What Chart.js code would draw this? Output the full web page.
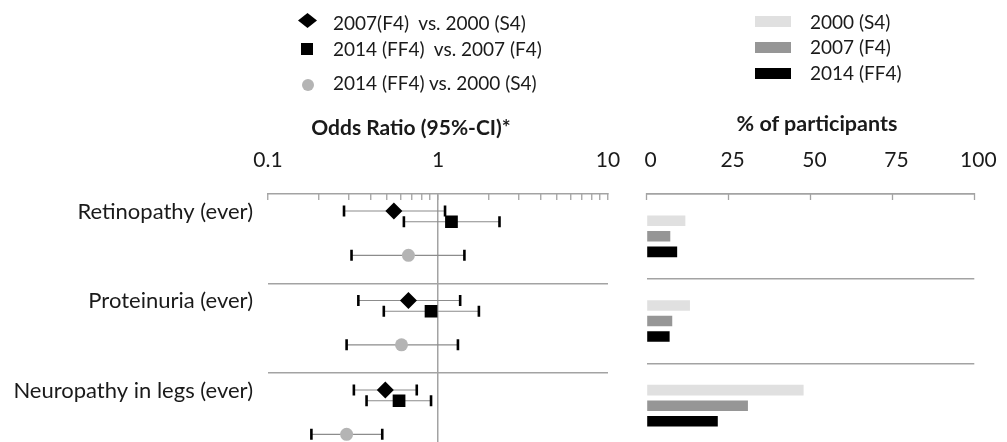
<!DOCTYPE html>
<html>
<head>
<meta charset="utf-8">
<script src="https://cdn.jsdelivr.net/npm/chart.js@4/dist/chart.umd.min.js"></script>
<style>
  html, body { margin: 0; padding: 0; background: #ffffff; }
  body { width: 1007px; height: 442px; overflow: hidden; position: relative;
         font-family: Lato, "Liberation Sans", sans-serif; color: #1a1a1a; }
  canvas { position: absolute; top: 0; }
  .t { position: absolute; white-space: pre; line-height: 1; }
  .c { transform: translate(-50%, -50%); }
  .l { transform: translate(0, -50%); }
  .b { font-weight: bold; }
  .mk { position: absolute; }
</style>
</head>
<body>
<canvas id="orChart" width="625" height="483" style="left:0px"></canvas>
<canvas id="pctChart" width="382" height="468" style="left:625px"></canvas>

<!-- left legend -->
<div class="mk" style="left:298px;top:13px;width:19px;height:15px;background:#000;clip-path:polygon(50% 0,100% 50%,50% 100%,0 50%);"></div>
<div class="mk" style="left:301px;top:43px;width:12px;height:12px;background:#000;"></div>
<div class="mk" style="left:302px;top:79px;width:12px;height:12px;border-radius:50%;background:#b4b4b4;"></div>
<div class="t l" id="lg0" style="left:333px;top:22px;font-size:19px;"></div>
<div class="t l" id="lg1" style="left:333px;top:48px;font-size:19px;"></div>
<div class="t l" id="lg2" style="left:333px;top:82px;font-size:19px;"></div>

<!-- right legend -->
<div class="mk" style="left:755px;top:16px;width:36px;height:11px;background:#e0e0e0;"></div>
<div class="mk" style="left:755px;top:42px;width:36px;height:11px;background:#969696;"></div>
<div class="mk" style="left:755px;top:68px;width:36px;height:11px;background:#000;"></div>
<div class="t l" id="pl0" style="left:810px;top:21px;font-size:19px;"></div>
<div class="t l" id="pl1" style="left:810px;top:46px;font-size:19px;"></div>
<div class="t l" id="pl2" style="left:810px;top:72px;font-size:19px;"></div>

<!-- panel titles -->
<div class="t c b" style="left:411px;top:126px;font-size:21px;">Odds Ratio (95%-CI)*</div>
<div class="t c b" style="left:817px;top:124px;font-size:21.5px;">% of participants</div>

<script>
// ---------- data ----------
const categories = ['Retinopathy (ever)', 'Proteinuria (ever)', 'Neuropathy in legs (ever)'];

const orSeriesLabels = ['2007(F4)  vs. 2000 (S4)', '2014 (FF4)  vs. 2007 (F4)', '2014 (FF4) vs. 2000 (S4)'];
const or07vs00 = [0.55, 0.67, 0.49];
const lo07vs00 = [0.28, 0.34, 0.32];
const hi07vs00 = [1.10, 1.35, 0.75];
const or14vs07 = [1.20, 0.91, 0.59];
const lo14vs07 = [0.63, 0.48, 0.38];
const hi14vs07 = [2.30, 1.74, 0.91];
const or14vs00 = [0.67, 0.61, 0.29];
const lo14vs00 = [0.31, 0.29, 0.18];
const hi14vs00 = [1.43, 1.31, 0.47];

const pctSeriesLabels = ['2000 (S4)', '2007 (F4)', '2014 (FF4)'];
const pct2000 = [11.8, 13.2, 47.9];
const pct2007 = [7.2, 7.8, 30.9];
const pct2014 = [9.3, 7.0, 21.7];

const orTickValues = [0.1, 0.2, 0.3, 0.4, 0.5, 0.6, 0.7, 0.8, 0.9, 1, 2, 3, 4, 5, 6, 7, 8, 9, 10];
const orTickLabels = [0.1, 1, 10];
const pctTickValues = [0, 25, 50, 75, 100];

// ---------- layout (not data) ----------
const SLOT = [0.19, 0.31, 0.685];   // vertical slot of each OR series inside a row
const LABEL_SLOT = 0.2;             // vertical slot of the row label
const AXIS_GRAY = '#a3a3a3';
const TEXT = '#1a1a1a';
const FONT = 'Lato, "Liberation Sans", sans-serif';

orSeriesLabels.forEach((s, i) => document.getElementById('lg' + i).textContent = s);
pctSeriesLabels.forEach((s, i) => document.getElementById('pl' + i).textContent = s);

Chart.defaults.font.family = FONT;
Chart.defaults.color = TEXT;
Chart.defaults.animation = false;

function points(vals, slot) { return vals.map((v, i) => ({ x: v, y: i + slot })); }
function whiskers(lo, hi, slot) {
  const d = [];
  lo.forEach((l, i) => { d.push({ x: l, y: i + slot }, { x: hi[i], y: i + slot }, { x: null, y: null }); });
  return d;
}
function whiskerSet(lo, hi, slot) {
  return { type: 'line', data: whiskers(lo, hi, slot), borderColor: '#8c8c8c', borderWidth: 1.2,
           pointStyle: 'line', pointRotation: 90, pointRadius: 5.5, pointBorderWidth: 2.6,
           pointBorderColor: '#000', pointBackgroundColor: '#000', spanGaps: false, fill: false, order: 2 };
}
function topAxisFit(s) { s.height = 194; s.paddingLeft = 0; s.paddingRight = 0; }
function leftAxisFit(s) { s.width = 268; s.paddingTop = 0; s.paddingBottom = 0; }

const yTickValues = [];
categories.forEach((c, i) => { yTickValues.push(i + LABEL_SLOT); if (i > 0) yTickValues.push(i); });
yTickValues.sort((a, b) => a - b);

new Chart(document.getElementById('orChart'), {
  type: 'scatter',
  data: {
    datasets: [
      whiskerSet(lo07vs00, hi07vs00, SLOT[0]),
      whiskerSet(lo14vs07, hi14vs07, SLOT[1]),
      whiskerSet(lo14vs00, hi14vs00, SLOT[2]),
      { label: orSeriesLabels[0], data: points(or07vs00, SLOT[0]), pointStyle: 'rectRot', pointRadius: 8.5,
        pointBackgroundColor: '#000', pointBorderColor: '#000', pointBorderWidth: 0, order: 0 },
      { label: orSeriesLabels[1], data: points(or14vs07, SLOT[1]), pointStyle: 'rect', pointRadius: 9,
        pointBackgroundColor: '#000', pointBorderColor: '#000', pointBorderWidth: 0, order: 0 },
      { label: orSeriesLabels[2], data: points(or14vs00, SLOT[2]), pointStyle: 'circle', pointRadius: 6.5,
        pointBackgroundColor: '#b4b4b4', pointBorderColor: '#b4b4b4', pointBorderWidth: 0, order: 0 }
    ]
  },
  options: {
    responsive: false,
    devicePixelRatio: 1,
    layout: { padding: { left: 0, right: 17, top: 0, bottom: 20.5 } },
    plugins: { legend: { display: false }, tooltip: { enabled: false } },
    events: [],
    scales: {
      x: {
        type: 'logarithmic', position: 'top', min: 0.1, max: 10,
        afterBuildTicks: s => { s.ticks = orTickValues.map(v => ({ value: v, major: orTickLabels.includes(v) })); },
        afterFit: topAxisFit,
        ticks: { autoSkip: false, maxRotation: 0, padding: 27.5, font: { size: 21 }, color: TEXT,
                 callback: v => orTickLabels.includes(v) ? String(v) : '' },
        grid: { drawOnChartArea: true, tickLength: -6, tickColor: AXIS_GRAY, tickWidth: 1.3,
                color: c => (c.tick && c.tick.value === 1) ? AXIS_GRAY : 'rgba(0,0,0,0)', lineWidth: 1.5 },
        border: { display: true, color: AXIS_GRAY, width: 1.5 }
      },
      y: {
        type: 'linear', reverse: true, min: 0, max: categories.length,
        afterBuildTicks: s => { s.ticks = yTickValues.map(v => ({ value: v })); },
        afterFit: leftAxisFit,
        ticks: { autoSkip: false, padding: 15, font: { size: 22 }, color: TEXT,
                 callback: v => {
                   const i = Math.round(v - LABEL_SLOT);
                   return Math.abs(v - i - LABEL_SLOT) < 1e-6 ? categories[i] : '';
                 } },
        grid: { drawTicks: false, lineWidth: 1.5,
                color: c => (c.tick && Number.isInteger(c.tick.value)) ? AXIS_GRAY : 'rgba(0,0,0,0)' },
        border: { display: false }
      }
    }
  }
});

new Chart(document.getElementById('pctChart'), {
  type: 'bar',
  data: {
    labels: categories,
    datasets: [
      { label: pctSeriesLabels[0], data: pct2000, backgroundColor: '#e0e0e0' },
      { label: pctSeriesLabels[1], data: pct2007, backgroundColor: '#969696' },
      { label: pctSeriesLabels[2], data: pct2014, backgroundColor: '#000000' }
    ]
  },
  options: {
    indexAxis: 'y',
    responsive: false,
    devicePixelRatio: 1,
    layout: { padding: { left: 21.7, right: 32.7, top: 0, bottom: 20 } },
    plugins: { legend: { display: false }, tooltip: { enabled: false } },
    events: [],
    datasets: { bar: { barPercentage: 0.68, categoryPercentage: 0.55 } },
    scales: {
      x: {
        type: 'linear', position: 'top', min: 0, max: 100,
        afterBuildTicks: s => { s.ticks = pctTickValues.map(v => ({ value: v })); },
        afterFit: topAxisFit,
        ticks: { autoSkip: false, maxRotation: 0, padding: 27.5, labelOffset: 4, font: { size: 21 }, color: TEXT },
        grid: { drawOnChartArea: false, tickLength: -6, tickColor: AXIS_GRAY, tickWidth: 1.3 },
        border: { display: true, color: AXIS_GRAY, width: 1.5 }
      },
      y: {
        type: 'category',
        ticks: { display: false },
        grid: { drawTicks: false, offset: true, color: AXIS_GRAY, lineWidth: 1.5 },
        border: { display: false }
      }
    }
  }
});
</script>
</body>
</html>
